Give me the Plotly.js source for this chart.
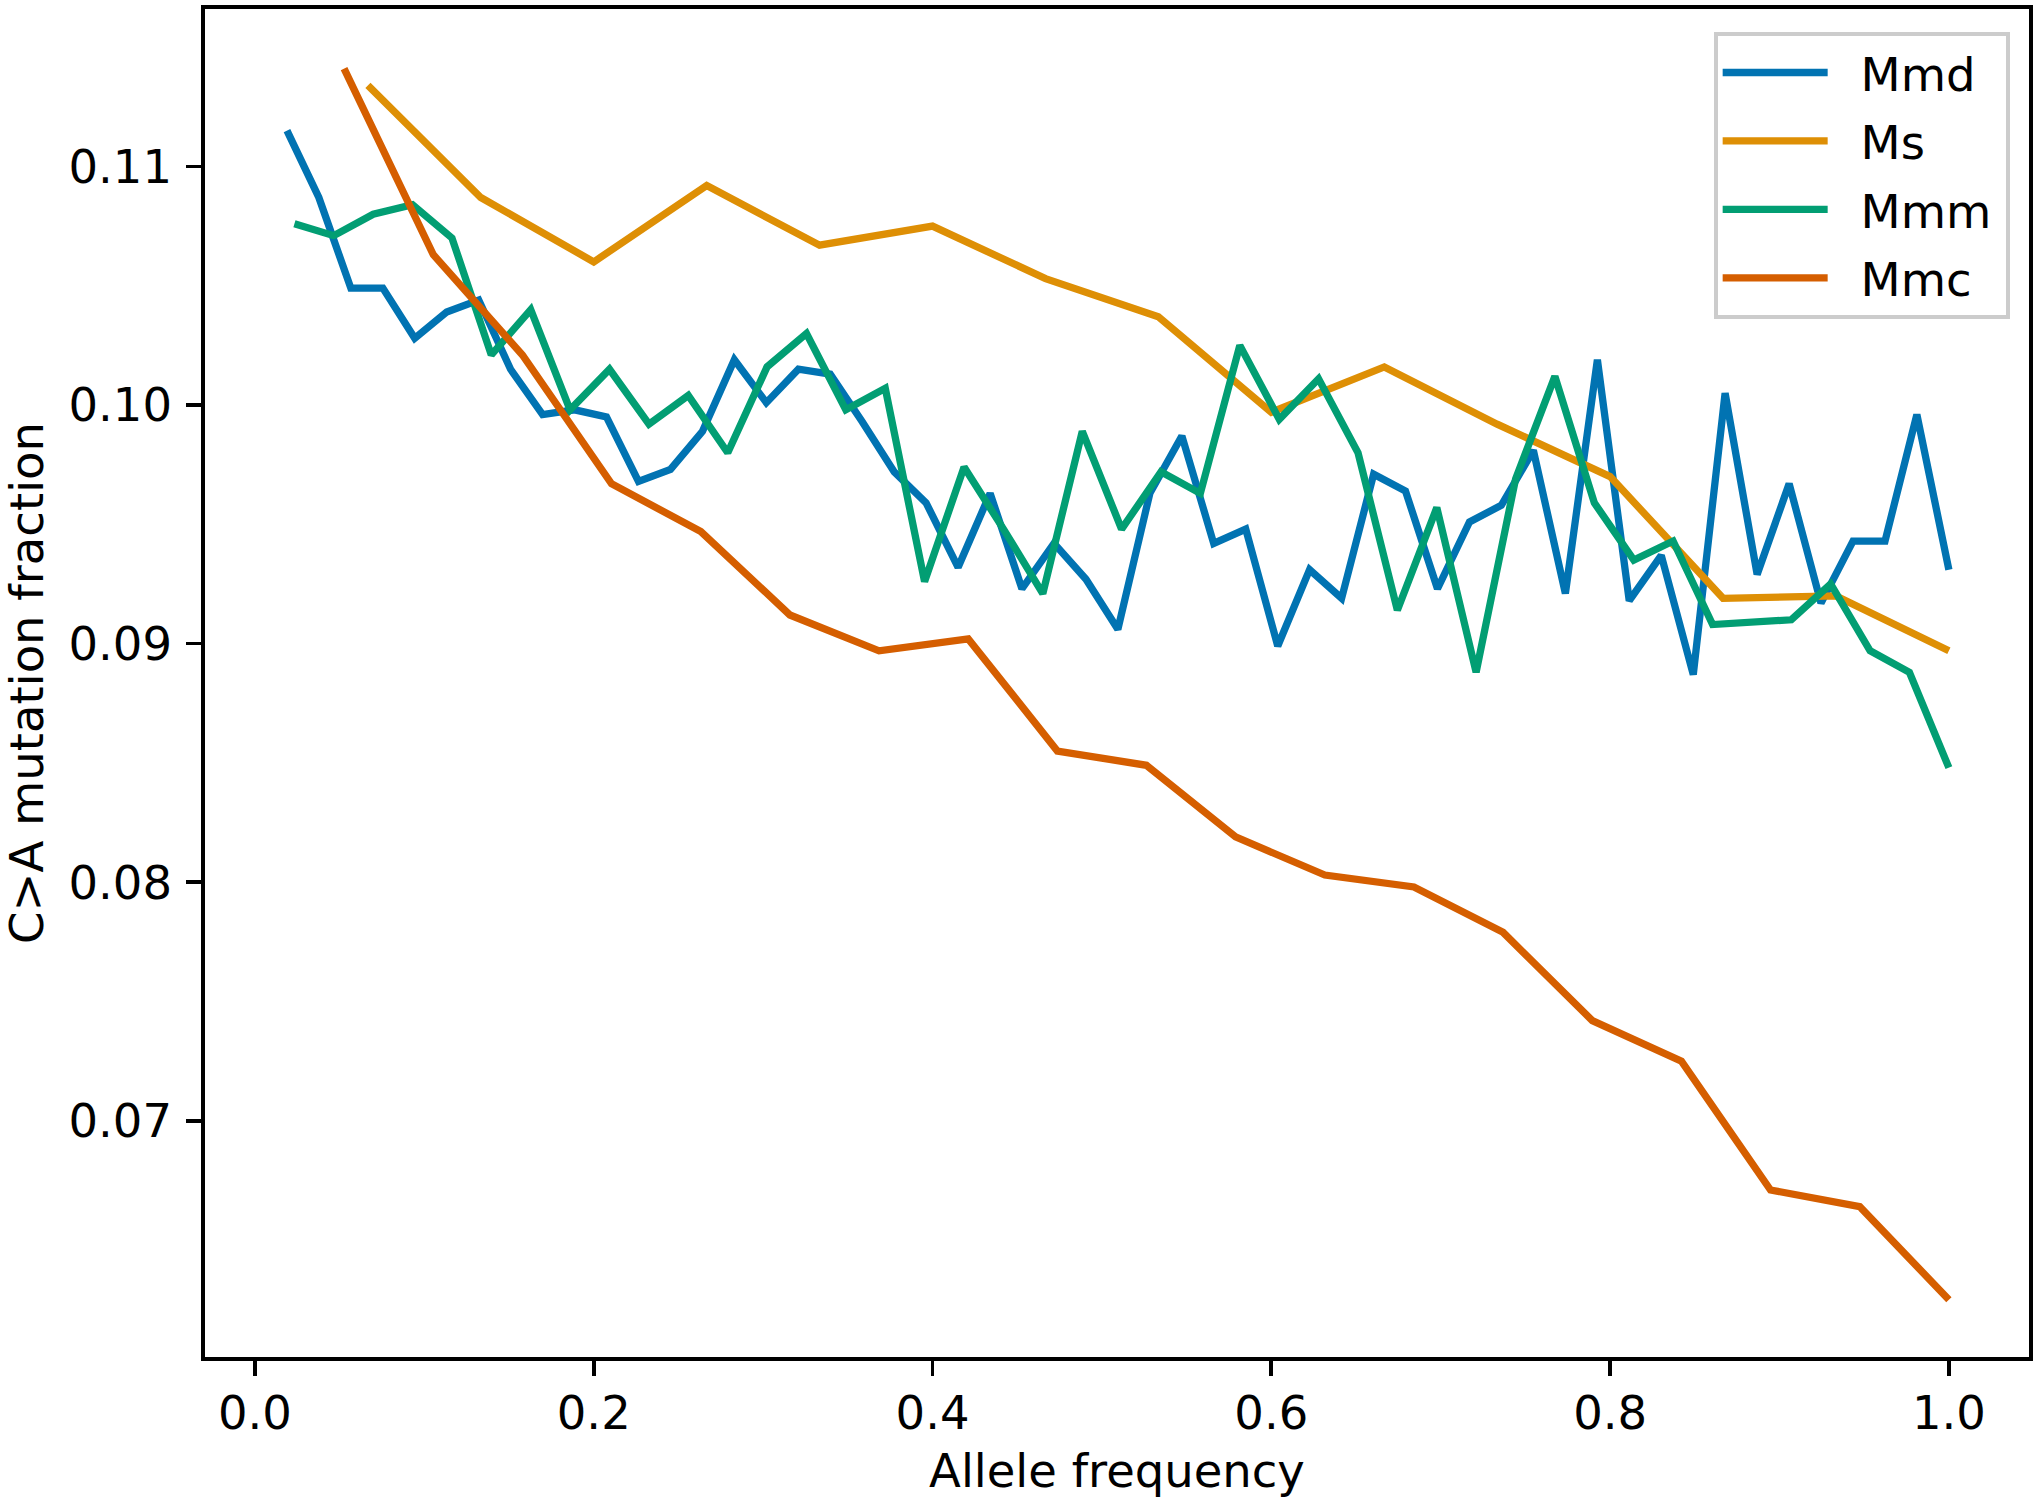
<!DOCTYPE html>
<html>
<head>
<meta charset="utf-8">
<script src="https://cdn.plot.ly/plotly-3.0.1.min.js"></script>
<style>
html, body { margin: 0; padding: 0; background: #ffffff; }
#chart { width: 2040px; height: 1506px; }
</style>
</head>
<body>
<div id="chart"></div>
<script>
// Allele frequency positions and C>A mutation fractions per series
const mmdX = [0.0189,0.0377,0.0566,0.0755,0.0943,0.1132,0.1321,0.1509,0.1698,0.1887,0.2075,0.2264,0.2453,0.2642,0.2830,0.3019,0.3208,0.3396,0.3585,0.3774,0.3962,0.4151,0.4340,0.4528,0.4717,0.4906,0.5094,0.5283,0.5472,0.5660,0.5849,0.6038,0.6226,0.6415,0.6604,0.6792,0.6981,0.7170,0.7358,0.7547,0.7736,0.7925,0.8113,0.8302,0.8491,0.8679,0.8868,0.9057,0.9245,0.9434,0.9623,0.9811,1.0];
const mmdY = [0.1115,0.1087,0.1049,0.1049,0.1028,0.1039,0.1044,0.1015,0.0996,0.0998,0.0995,0.0968,0.0973,0.0989,0.1019,0.1001,0.1015,0.1013,0.0993,0.0972,0.0959,0.0932,0.0963,0.0923,0.0942,0.0927,0.0906,0.0963,0.0987,0.0942,0.0948,0.0899,0.0931,0.0919,0.0971,0.0964,0.0923,0.0951,0.0958,0.0981,0.0921,0.1019,0.0918,0.0937,0.0887,0.1005,0.0929,0.0967,0.0917,0.0943,0.0943,0.0996,0.0931];

const msX = [0.0667,0.1333,0.2,0.2667,0.3333,0.4,0.4667,0.5333,0.6,0.6667,0.7333,0.8,0.8667,0.9333,1.0];
const msY = [0.1134,0.1087,0.1060,0.1092,0.1067,0.1075,0.1053,0.1037,0.0997,0.1016,0.0992,0.0970,0.0919,0.0920,0.0897];

const mmmX = [0.0233,0.0465,0.0698,0.0930,0.1163,0.1395,0.1628,0.1860,0.2093,0.2326,0.2558,0.2791,0.3023,0.3256,0.3488,0.3721,0.3953,0.4186,0.4419,0.4651,0.4884,0.5116,0.5349,0.5581,0.5814,0.6047,0.6279,0.6512,0.6744,0.6977,0.7209,0.7442,0.7674,0.7907,0.8140,0.8372,0.8605,0.8837,0.9070,0.9302,0.9535,0.9767,1.0];
const mmmY = [0.1076,0.1071,0.1080,0.1084,0.1070,0.1021,0.1040,0.0998,0.1015,0.0992,0.1004,0.0980,0.1016,0.1030,0.0998,0.1007,0.0926,0.0974,0.0948,0.0921,0.0989,0.0948,0.0972,0.0963,0.1025,0.0994,0.1011,0.0980,0.0914,0.0957,0.0888,0.0969,0.1012,0.0959,0.0935,0.0943,0.0908,0.0909,0.0910,0.0925,0.0897,0.0888,0.0848];

const mmcX = [0.0526,0.1053,0.1579,0.2105,0.2632,0.3158,0.3684,0.4211,0.4737,0.5263,0.5789,0.6316,0.6842,0.7368,0.7895,0.8421,0.8947,0.9474,1.0];
const mmcY = [0.1141,0.1063,0.1021,0.0967,0.0947,0.0912,0.0897,0.0902,0.0855,0.0849,0.0819,0.0803,0.0798,0.0779,0.0742,0.0725,0.0671,0.0664,0.0625];

const seriesNames = ["Mmd", "Ms", "Mmm", "Mmc"];
const seriesColors = ["#0173b2", "#de8f05", "#029e73", "#d55e00"];
const xTickVals = [0.0, 0.2, 0.4, 0.6, 0.8, 1.0];
const xTickText = ["0.0", "0.2", "0.4", "0.6", "0.8", "1.0"];
const yTickVals = [0.07, 0.08, 0.09, 0.10, 0.11];
const yTickText = ["0.07", "0.08", "0.09", "0.10", "0.11"];

const xs = [mmdX, msX, mmmX, mmcX];
const ys = [mmdY, msY, mmmY, mmcY];

const FONT = "DejaVu Sans, Liberation Sans, sans-serif";
const FS = 46.5;
// small unicode spacing so the legend text sits further from its line sample
const LEGEND_GAP = "\u2002\u200a";
const LEGEND_TAIL = "\u2009";

const traces = seriesNames.map((name, i) => ({
  type: "scatter",
  mode: "lines",
  name: LEGEND_GAP + name + LEGEND_TAIL,
  x: xs[i],
  y: ys[i],
  legendgroup: name,
  line: { color: seriesColors[i], width: 7.3 }
}));

const layout = {
  width: 2040,
  height: 1506,
  paper_bgcolor: "#ffffff",
  plot_bgcolor: "#ffffff",
  margin: { l: 205, r: 11, t: 9, b: 149, pad: 0 },
  font: { family: FONT, size: FS, color: "#000000" },
  showlegend: true,
  legend: {
    x: 0.9894, xanchor: "right",
    y: 0.9831, yanchor: "top",
    bgcolor: "rgba(255,255,255,0.8)",
    bordercolor: "#cccccc",
    borderwidth: 4,
    font: { family: FONT, size: FS, color: "#000000" },
    itemwidth: 105,
    tracegroupgap: 5,
    traceorder: "grouped"
  },
  xaxis: {
    range: [-0.0295, 1.0473],
    tickmode: "array",
    tickvals: xTickVals,
    ticktext: xTickText,
    ticks: "outside",
    ticklen: 15,
    tickwidth: 3.7,
    tickcolor: "#000000",
    ticklabelstandoff: -3,
    showline: true,
    linecolor: "#000000",
    linewidth: 3.7,
    mirror: true,
    showgrid: false,
    zeroline: false,
    tickfont: { family: FONT, size: FS, color: "#000000" },
    title: { text: "Allele frequency", font: { family: FONT, size: FS, color: "#000000" }, standoff: 17 }
  },
  yaxis: {
    range: [0.0601, 0.1166],
    tickmode: "array",
    tickvals: yTickVals,
    ticktext: yTickText,
    ticks: "outside",
    ticklen: 15,
    tickwidth: 3.7,
    tickcolor: "#000000",
    ticklabelstandoff: 5,
    showline: true,
    linecolor: "#000000",
    linewidth: 3.7,
    mirror: true,
    showgrid: false,
    zeroline: false,
    tickfont: { family: FONT, size: FS, color: "#000000" },
    title: { text: "C&gt;A mutation fraction", font: { family: FONT, size: FS, color: "#000000" }, standoff: 20 }
  }
};

Plotly.newPlot("chart", traces, layout, { displayModeBar: false, staticPlot: true });
</script>
</body>
</html>
